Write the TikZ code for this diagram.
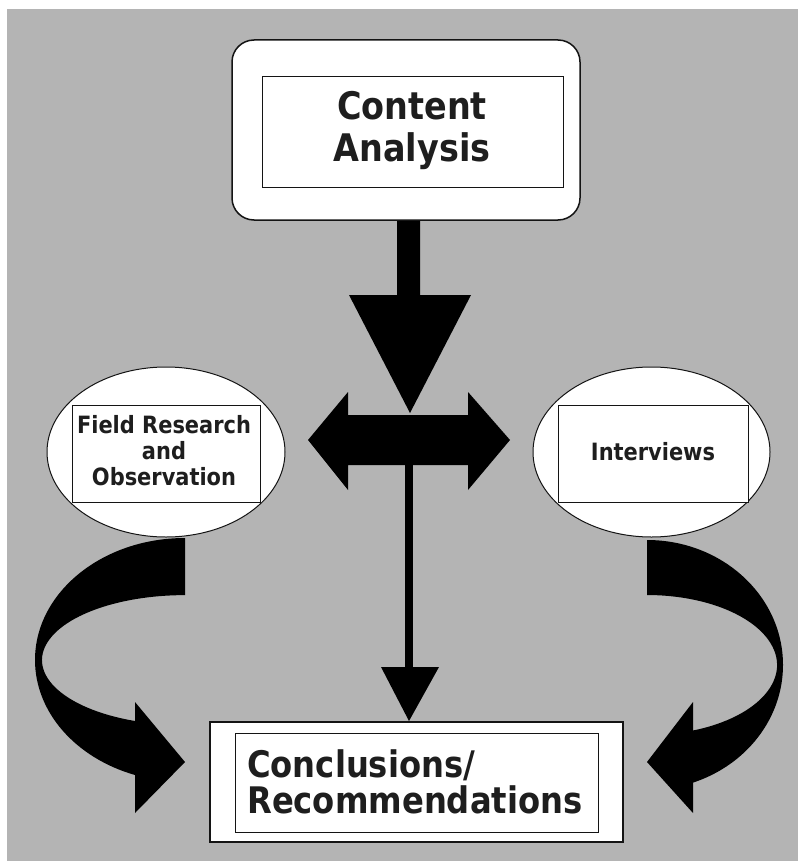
\documentclass[tikz,border=0pt]{standalone}
\usepackage{fontspec}
\usetikzlibrary{shapes.geometric}
\newfontfamily\tah{DejaVu Sans}[FakeStretch=0.88]
\definecolor{bg}{RGB}{180,180,180}
\definecolor{ink}{RGB}{20,20,20}
\definecolor{txt}{RGB}{30,30,30}
\tikzset{
  frame/.style={draw=ink, line width=1.5pt, fill=white, inner sep=0pt},
  innerbox/.style={draw=ink, line width=1pt, fill=white, inner sep=0pt},
  oval/.style={draw=ink, line width=1pt, fill=white, ellipse, inner sep=0pt},
  label/.style={text=txt, inner sep=0pt, align=center},
  blockarrow/.style={fill=black, draw=none}
}
\begin{document}
\begin{tikzpicture}[x=1pt,y=-1pt]
\useasboundingbox (0,0) rectangle (798,861);
\fill[white] (0,0) rectangle (798,861);
\fill[bg] (7,9) rectangle (798,861);

% thick down arrow from Content Analysis
\fill[blockarrow] (397,215) -- (420,215) -- (420,295) -- (471,295) -- (410,413)
  -- (349,295) -- (397,295) -- cycle;
% double-headed horizontal arrow
\fill[blockarrow] (308,440) -- (348,392) -- (348,415) -- (468,415) -- (468,392)
  -- (510,440) -- (468,490) -- (468,465) -- (348,465) -- (348,490) -- cycle;
% thin shaft and head down to conclusions
\fill[blockarrow] (405,460) rectangle (413,668);
\fill[blockarrow] (381,667) -- (439,667) -- (409,721) -- cycle;

% left curved arrow
\fill[blockarrow] (185,538) arc[start angle=270, end angle=109.47, x radius=150, y radius=122]
  -- (135,813) -- (185,762) -- (135,702) -- (135,721)
  arc[start angle=110.47, end angle=270, x radius=143, y radius=65] -- cycle;
% right curved arrow
\fill[blockarrow] (647,540) arc[start angle=-90, end angle=70.2, x radius=136, y radius=125]
  -- (693,813) -- (647,762) -- (693,702) -- (693,730.5)
  arc[start angle=69.3, end angle=-90, x radius=130, y radius=70] -- cycle;

% Content Analysis
\node[frame, rounded corners=22pt, minimum width=348pt, minimum height=180pt] (ca) at (406,130) {};
\node[innerbox, minimum width=301pt, minimum height=110pt] (cain) at (412.5,132) {};
\node[label, anchor=base, font=\tah\bfseries\fontsize{38}{42}\selectfont] (catext) at (412,162) {Content\\Analysis};

% Field research ellipse
\node[oval, minimum width=238pt, minimum height=170pt] (fr) at (166,452) {};
\node[innerbox, minimum width=188pt, minimum height=97pt] (frin) at (166,453.5) {};
\node[label, anchor=base, font=\tah\bfseries\fontsize{23.8}{26}\selectfont] (frtext) at (164,485) {Field Research\\and\\Observation};

% Interviews ellipse
\node[oval, minimum width=237pt, minimum height=170pt] (iv) at (651.5,452) {};
\node[innerbox, minimum width=190pt, minimum height=97pt] (ivin) at (653,453.5) {};
\node[label, anchor=base, font=\tah\bfseries\fontsize{23.8}{26}\selectfont] (ivtext) at (653,460) {Interviews};

% Conclusions
\node[frame, minimum width=413pt, minimum height=120pt] (cr) at (416.5,782) {};
\node[innerbox, minimum width=363pt, minimum height=99pt] (crin) at (416.5,782.5) {};
\node[label, align=left, anchor=base west, font=\tah\bfseries\fontsize{36.6}{36}\selectfont] (crtext) at (247,813) {Conclusions/\\Recommendations};
\end{tikzpicture}
\end{document}
